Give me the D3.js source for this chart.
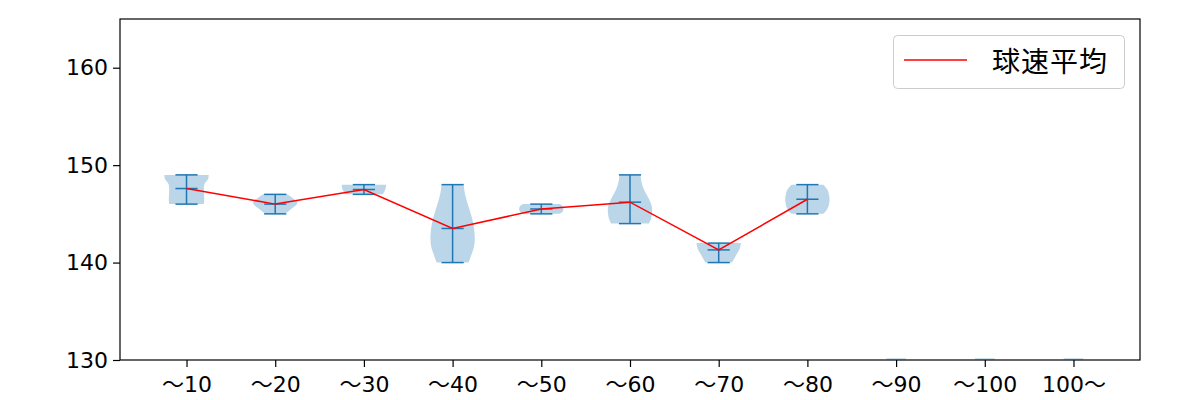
<!DOCTYPE html>
<html>
<head>
<meta charset="utf-8">
<script src="https://cdn.jsdelivr.net/npm/d3@7"></script>
<style>
  body { margin: 0; background: #fff; }
  svg { display: block; }
</style>
</head>
<body>
<svg id="chart" width="1200" height="400"></svg>
<script>
// ---- data ----
const categories = ["〜10", "〜20", "〜30", "〜40", "〜50", "〜60", "〜70", "〜80", "〜90", "〜100", "100〜"];
const means = [147.6, 146.0, 147.5, 143.5, 145.5, 146.2, 141.3, 146.5, null, null, null];
const mins  = [146, 145, 147, 140, 145, 144, 140, 145, null, null, null];
const maxs  = [149, 147, 148, 148, 146, 149, 142, 148, null, null, null];
// relative density profiles [value, density 0..1]
const densities = [
  [[146,0.78],[146.5,0.8],[147,0.79],[147.5,0.78],[148,0.8],[148.3,0.88],[148.6,0.98],[149,1.0]],
  [[145,0.45],[145.5,0.72],[146,0.98],[146.2,1.0],[146.6,0.8],[147,0.55]],
  [[147,0.85],[147.3,0.92],[147.6,0.98],[148,1.0]],
  [[140,0.72],[140.5,0.8],[141,0.88],[141.5,0.95],[142,0.99],[142.6,1.0],[143,0.99],[144,0.93],[145,0.82],[146,0.68],[147,0.56],[148,0.5]],
  [[145,0.82],[145.25,0.97],[145.5,1.0],[145.75,0.97],[146,0.82]],
  [[144,0.85],[144.5,0.95],[145,0.99],[145.3,1.0],[145.7,0.99],[146,0.95],[146.5,0.86],[147,0.74],[147.5,0.63],[148,0.55],[148.5,0.5],[149,0.48]],
  [[140,0.6],[140.5,0.72],[141,0.85],[141.5,0.96],[142,1.0]],
  [[145,0.72],[145.5,0.9],[146,0.98],[146.5,1.0],[147,0.97],[147.5,0.9],[148,0.72]],
  null, null, null
];
const yTicks = [130, 140, 150, 160];
const legendLabel = "球速平均";

// ---- layout ----
const svg = d3.select("#chart");
const L = 120, R = 1140, T = 19, B = 360;
const x = d3.scaleLinear().domain([0.25, categories.length + 0.75]).range([L, R]);
const y = d3.scaleLinear().domain([130, 165]).range([B, T]);
const halfW = d3.scaleLinear().domain([0, 1]).range([0, 0.25]); // in x-units
const blue = "#1f77b4";

svg.append("defs").append("clipPath").attr("id", "clip")
  .append("rect").attr("x", L).attr("y", T).attr("width", R - L).attr("height", B - T);

const g = svg.append("g").attr("clip-path", "url(#clip)");

// violins
categories.forEach((c, i) => {
  const pos = i + 1;
  const d = densities[i];
  if (!d) {
    g.append("line")
      .attr("x1", x(pos - 0.11)).attr("x2", x(pos + 0.11))
      .attr("y1", B - 1).attr("y2", B - 1)
      .attr("stroke", blue).attr("stroke-opacity", 0.3).attr("stroke-width", 1.5);
    return;
  }
  const area = d3.area()
    .y(p => y(p[0]))
    .x0(p => x(pos - halfW(p[1])))
    .x1(p => x(pos + halfW(p[1])))
    .curve(d3.curveMonotoneY);
  g.append("path").datum(d).attr("d", area)
    .attr("fill", blue).attr("fill-opacity", 0.3).attr("stroke", "none");
});

// min/max/mean bars
categories.forEach((c, i) => {
  if (mins[i] == null) return;
  const pos = i + 1;
  const cw = 0.125;
  g.append("line").attr("x1", x(pos)).attr("x2", x(pos))
    .attr("y1", y(mins[i])).attr("y2", y(maxs[i]))
    .attr("stroke", blue).attr("stroke-width", 1.5);
  [mins[i], maxs[i], means[i]].forEach(v => {
    g.append("line").attr("x1", x(pos - cw)).attr("x2", x(pos + cw))
      .attr("y1", y(v)).attr("y2", y(v))
      .attr("stroke", blue).attr("stroke-width", 1.5);
  });
});

// mean line
const meanPts = means.map((m, i) => [i + 1, m]).filter(p => p[1] != null);
g.append("path").datum(meanPts)
  .attr("d", d3.line().x(p => x(p[0])).y(p => y(p[1])))
  .attr("fill", "none").attr("stroke", "red").attr("stroke-width", 1.5);

// axes
const xAxis = d3.axisBottom(x).tickValues(categories.map((c, i) => i + 1))
  .tickFormat((d, i) => categories[i]).tickSizeOuter(0).tickSize(7).tickPadding(9);
const yAxis = d3.axisLeft(y).tickValues(yTicks).tickSizeOuter(0).tickSize(7).tickPadding(5);

const gx = svg.append("g").attr("transform", `translate(0,${B})`).call(xAxis);
const gy = svg.append("g").attr("transform", `translate(${L},0)`).call(yAxis);
[gx, gy].forEach(ax => {
  ax.select(".domain").remove();
  ax.attr("font-family", null).attr("font-size", null);
  ax.selectAll(".tick line").attr("stroke", "#000").attr("stroke-width", 1.2);
  ax.selectAll(".tick text")
    .style("font-size", "22px")
    .style("font-family", '"DejaVu Sans", "Noto Sans CJK JP", sans-serif')
    .style("fill", "#000");
});

// frame
svg.append("rect").attr("x", L).attr("y", T).attr("width", R - L).attr("height", B - T)
  .attr("fill", "none").attr("stroke", "#000").attr("stroke-width", 1.2);

// legend
const lg = svg.append("g");
lg.append("rect").attr("x", 893.5).attr("y", 35.5).attr("width", 231).attr("height", 53).attr("rx", 4)
  .attr("fill", "#fff").attr("fill-opacity", 0.8).attr("stroke", "#ccc").attr("stroke-width", 1);
lg.append("line").attr("x1", 904).attr("x2", 967).attr("y1", 60).attr("y2", 60)
  .attr("stroke", "red").attr("stroke-width", 1.5);
lg.append("text").attr("x", 992).attr("y", 60).attr("dominant-baseline", "central")
  .style("font-family", '"Noto Sans CJK JP", sans-serif')
  .style("font-size", "28px").attr("letter-spacing", 1).attr("fill", "#000").text(legendLabel);
</script>
</body>
</html>
